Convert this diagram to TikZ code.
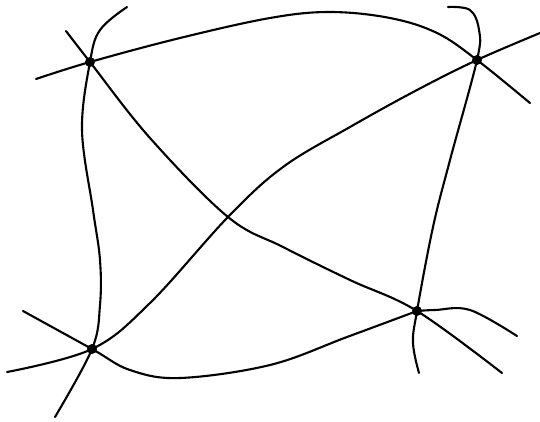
\documentclass[tikz,border=0pt]{standalone}
\begin{document}
\begin{tikzpicture}[x=1pt,y=-1pt,
  vtx/.style={circle,fill=black,inner sep=0pt,minimum size=10pt},
  edge/.style={line width=2.1pt,line cap=round,line join=round}]
\useasboundingbox (0,0) rectangle (540,421);
\fill[white] (0,0) rectangle (540,421);
% vertices
\node[vtx] (A) at (90,62) {};
\node[vtx] (B) at (477,60) {};
\node[vtx] (C) at (92,349) {};
\node[vtx] (D) at (417,311) {};
% free ends
\coordinate (a1) at (36,79);
\coordinate (a2) at (66,31);
\coordinate (a3) at (127,7);
\coordinate (b1) at (530,103);
\coordinate (b2) at (540,33);
\coordinate (b3) at (448,7);
\coordinate (c1) at (7,372);
\coordinate (c2) at (23,311);
\coordinate (c3) at (55,417);
\coordinate (d1) at (502,373);
\coordinate (d2) at (517,336);
\coordinate (d3) at (419,373);
% A -- B
\draw[edge] plot[smooth,tension=0.6] coordinates {(a1) (A) (180,38) (270,18) (330,12) (390,18) (437,33) (B) (b1)};
% A -- D
\draw[edge] plot[smooth,tension=0.6] coordinates {(a2) (A) (150,138) (228,217) (283,247) (350,280) (D) (d1)};
% A -- C
\draw[edge] plot[smooth,tension=0.6] coordinates {(a3) (100,30) (A) (82,130) (93,210) (100,260) (100,305) (C) (c3)};
% C -- B
\draw[edge] plot[smooth,tension=0.6] coordinates {(c1) (C) (150,303) (228,217) (283,167) (350,127) (417,90) (B) (b2)};
% C -- D
\draw[edge] plot[smooth,tension=0.6] coordinates {(c2) (C) (130,370) (180,378) (270,365) (347,337) (D)};
\draw[edge] plot[smooth,tension=0.6] coordinates {(D) (435,310) (470,310) (d2)};
% B -- D
\draw[edge] plot[smooth,tension=0.6] coordinates {(b3) (470,10) (479,30) (B) (450,160) (433,227) (D) (413,343) (d3)};
\end{tikzpicture}
\end{document}
